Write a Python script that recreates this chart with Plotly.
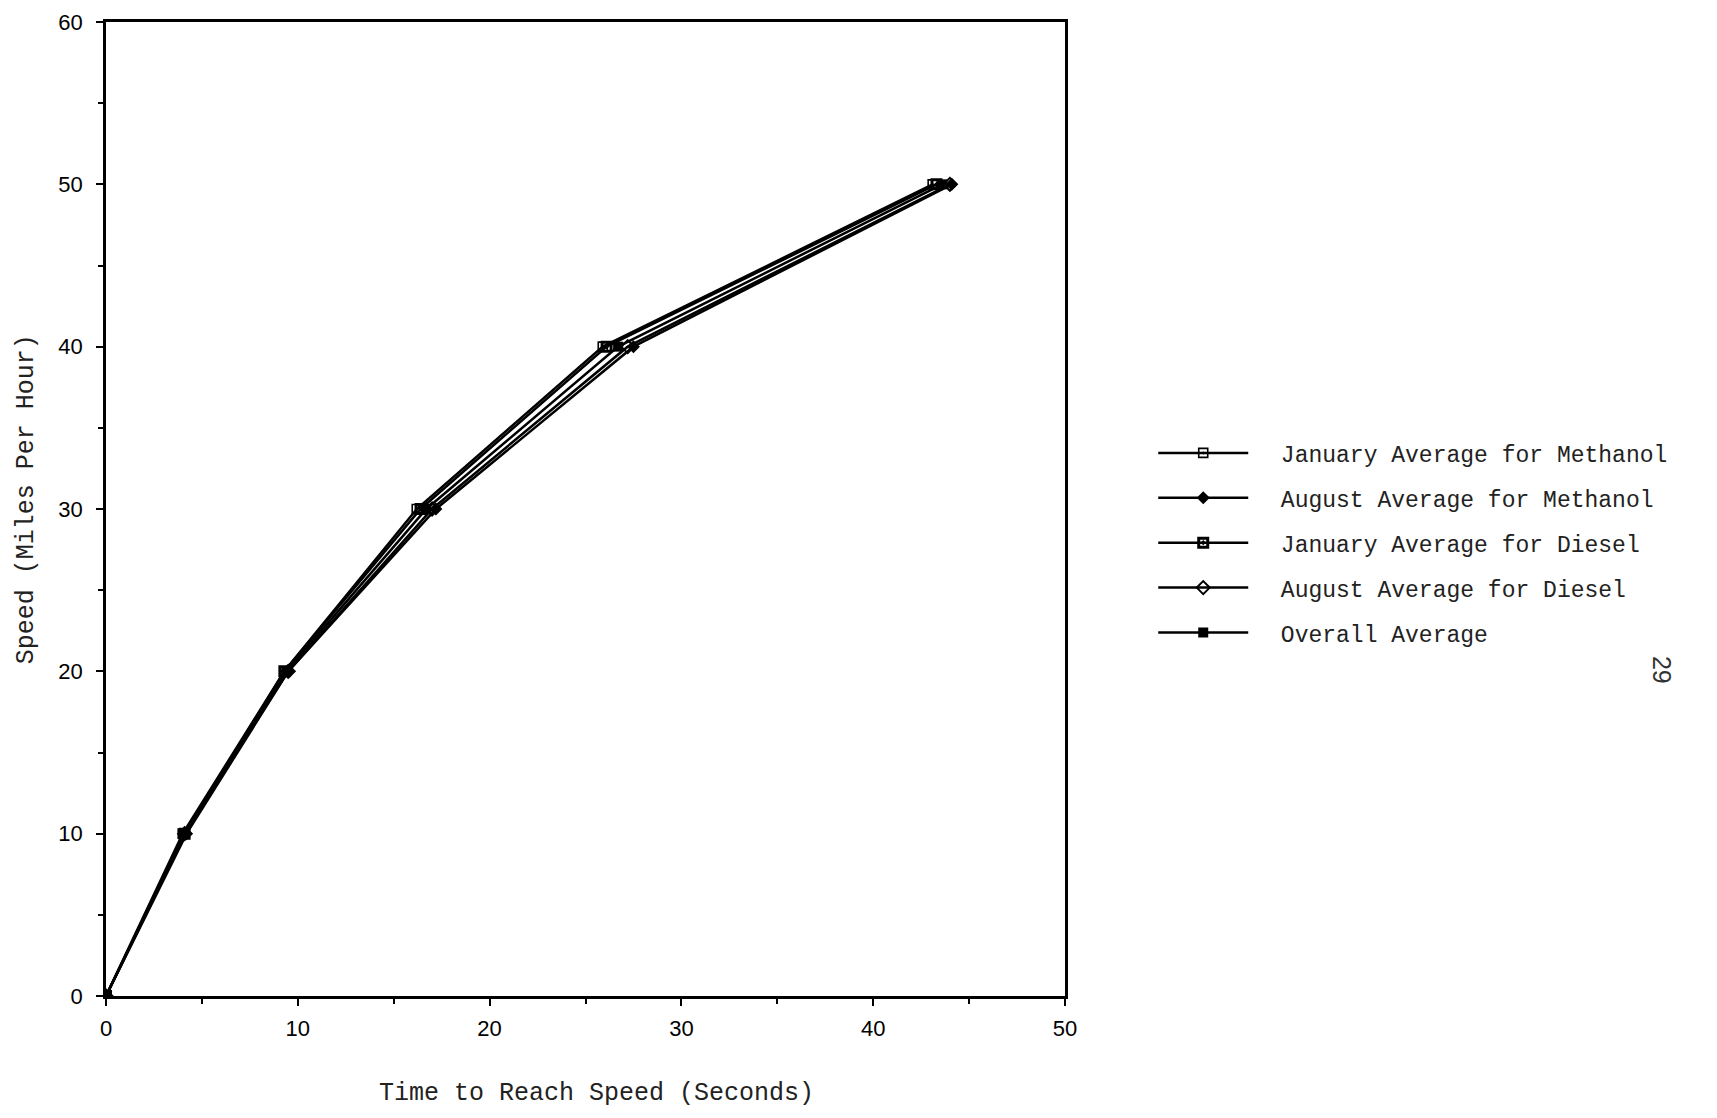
import plotly.graph_objects as go

speed_mph = [0, 10, 20, 30, 40, 50]

series_names = [
    "January Average for Methanol",
    "August Average for Methanol",
    "January Average for Diesel",
    "August Average for Diesel",
    "Overall Average",
]
jan_methanol = [0, 4.0, 9.3, 16.2, 25.9, 43.1]
aug_methanol = [0, 4.2, 9.5, 17.2, 27.5, 44.1]
jan_diesel = [0, 4.1, 9.3, 16.4, 26.1, 43.3]
aug_diesel = [0, 4.1, 9.5, 17.0, 27.2, 44.0]
overall = [0, 4.1, 9.4, 16.7, 26.7, 43.6]

x_ticks = [0, 10, 20, 30, 40, 50]
y_ticks = [0, 10, 20, 30, 40, 50, 60]

series_times = [jan_methanol, aug_methanol, jan_diesel, aug_diesel, overall]
marker_styles = [
    dict(symbol="square-open-dot", size=9, line=dict(width=1.6, color="black")),
    dict(symbol="diamond", size=10, line=dict(width=0, color="black")),
    dict(symbol="square-open-dot", size=9, line=dict(width=3, color="black")),
    dict(symbol="diamond-open", size=10, line=dict(width=2, color="black")),
    dict(symbol="square", size=10, line=dict(width=0, color="black")),
]

fig = go.Figure()
for i, (name, times) in enumerate(zip(series_names, series_times)):
    fig.add_trace(go.Scatter(
        x=times, y=speed_mph, name="\u00a0\u00a0" + name, mode="lines+markers",
        line=dict(color="black", width=2.5),
        marker=dict(color="black", **marker_styles[i]),
        legendgroup=f"g{i}",
    ))

axis_common = dict(
    showgrid=False, zeroline=False, showline=True, linecolor="black",
    linewidth=2.5, mirror=True, ticks="outside", ticklen=7, tickwidth=2,
    tickcolor="black", automargin=False,
    minor=dict(ticks="outside", ticklen=5, tickwidth=2, tickcolor="black", dtick=5),
)

fig.update_xaxes(
    range=[0, 50], tickvals=x_ticks, **axis_common,
    ticklabelstandoff=4,
    tickfont=dict(family="Liberation Sans", size=22, color="black"),
)
fig.update_yaxes(
    range=[0, 60], tickvals=y_ticks, **axis_common,
    ticklabelstandoff=9,
    tickfont=dict(family="Liberation Sans", size=22, color="black"),
)

# axis titles placed as text
fig.add_annotation(
    text="Time to Reach Speed (Seconds)", xref="paper", yref="paper",
    x=0.511, y=-0.0996, xanchor="center", yanchor="middle",
    showarrow=False,
    font=dict(family="Liberation Mono", size=25, color="#222"),
)
fig.add_annotation(
    text="Speed (Miles Per Hour)", xref="paper", yref="paper",
    x=-0.082, y=0.5103, xanchor="center", yanchor="middle",
    showarrow=False, textangle=-90,
    font=dict(family="Liberation Mono", size=25, color="#222"),
)

fig.add_annotation(
    text="29", xref="paper", yref="paper", x=1.640, y=0.335,
    showarrow=False, textangle=90,
    font=dict(family="Liberation Sans", size=25, color="#333"),
)

fig.update_layout(
    width=1701, height=1102,
    margin=dict(l=98, r=644, t=14, b=114),
    paper_bgcolor="white", plot_bgcolor="white",
    showlegend=True,
    legend=dict(
        x=1.092, y=0.5796, xanchor="left", yanchor="top",
        font=dict(family="Liberation Mono", size=23, color="#222"),
        itemwidth=90, tracegroupgap=12, bgcolor="rgba(0,0,0,0)",
    ),
)

fig.write_html("out.html")
